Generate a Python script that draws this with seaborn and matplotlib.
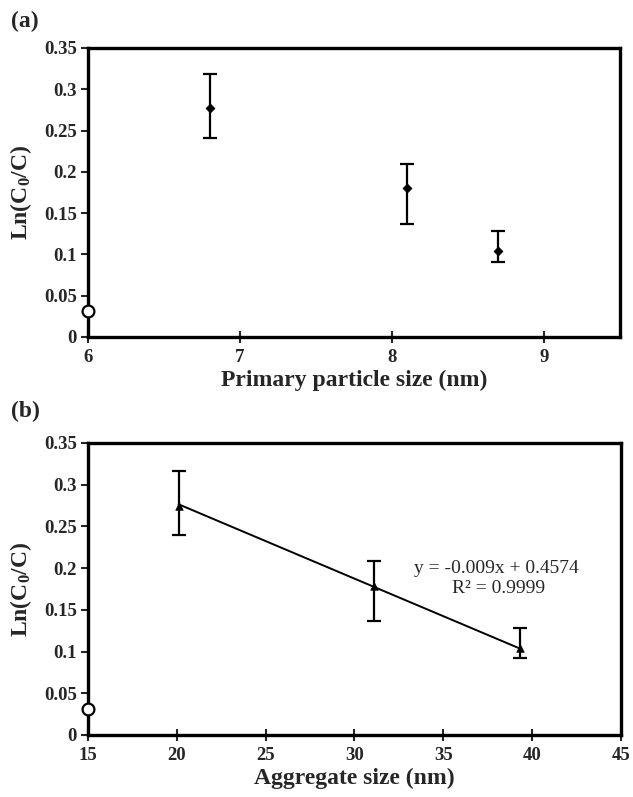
import numpy as np
import pandas as pd
import matplotlib
matplotlib.use("Agg")
import matplotlib.pyplot as plt
import seaborn as sns

# panel (a): primary particle size
primary_nm = [6.8, 8.1, 8.7]
ln_a = [0.277, 0.180, 0.104]
err_lo_a = [0.036, 0.043, 0.013]
err_hi_a = [0.041, 0.030, 0.024]

# panel (b): aggregate size
aggregate_nm = [20.1, 31.1, 39.3]
ln_b = [0.275, 0.179, 0.104]
err_lo_b = [0.035, 0.042, 0.012]
err_hi_b = [0.041, 0.030, 0.024]

# reference point (open circle) on the y axis
ref_y = 0.031

fit_slope = -0.009
fit_icpt = 0.4574

sns.set_style("ticks")
plt.rcParams['font.family'] = ['Liberation Serif', 'DejaVu Serif']
plt.rcParams['mathtext.fontset'] = 'custom'
plt.rcParams['mathtext.rm'] = 'Liberation Serif:bold'
plt.rcParams['mathtext.it'] = 'Liberation Serif:bold'
plt.rcParams['mathtext.bf'] = 'Liberation Serif:bold'

fig = plt.figure(figsize=(6.33, 7.97), dpi=100)
ax_a = fig.add_axes([0.139, 0.5772, 0.840, 0.3626])
ax_b = fig.add_axes([0.139, 0.0778, 0.842, 0.3664])

df_a = pd.DataFrame({"x": primary_nm, "y": ln_a})
df_b = pd.DataFrame({"x": aggregate_nm, "y": ln_b})


def style_axis(ax, xticks, xlabel):
    ax.set_ylim(0, 0.35)
    ax.set_yticks(np.arange(0, 0.351, 0.05))
    ax.set_yticklabels(["0", "0.05", "0.1", "0.15", "0.2", "0.25", "0.3", "0.35"])
    ax.set_xticks(xticks)
    for s in ax.spines.values():
        s.set_linewidth(2.4)
        s.set_color("black")
    ax.tick_params(axis="y", direction="out", length=5, width=1.5, labelsize=13.5, pad=3)
    ax.tick_params(axis="x", direction="inout", length=9, width=1.5, labelsize=13.5, pad=4)
    for lab in ax.get_xticklabels() + ax.get_yticklabels():
        lab.set_fontweight("bold")
    ax.set_xlabel(xlabel, fontsize=17, fontweight="bold", labelpad=3)
    ax.set_ylabel(r"Ln(C$_0$/C)", fontsize=17, fontweight="bold", labelpad=7)


# ---- (a)
ax_a.errorbar(primary_nm, ln_a, yerr=[err_lo_a, err_hi_a], fmt="none",
              ecolor="black", elinewidth=1.6, capsize=5, capthick=1.6, zorder=2)
sns.scatterplot(data=df_a, x="x", y="y", ax=ax_a, marker="D", s=22,
                color="black", edgecolor="black", zorder=3, legend=False)
ax_a.plot([6], [ref_y], marker="o", ms=8.5, mfc="white", mec="black", mew=1.6,
          clip_on=False, zorder=4)
ax_a.set_xlim(6, 9.5)
style_axis(ax_a, [6, 7, 8, 9], "Primary particle size (nm)")

# ---- (b)
fit_x = np.array([aggregate_nm[0], aggregate_nm[-1]])
ax_b.plot(fit_x, fit_slope * fit_x + fit_icpt, color="black", lw=1.4, zorder=2)
ax_b.errorbar(aggregate_nm, ln_b, yerr=[err_lo_b, err_hi_b], fmt="none",
              ecolor="black", elinewidth=1.6, capsize=5, capthick=1.6, zorder=2)
sns.scatterplot(data=df_b, x="x", y="y", ax=ax_b, marker="^", s=30,
                color="black", edgecolor="black", zorder=3, legend=False)
ax_b.plot([15], [ref_y], marker="o", ms=8.5, mfc="white", mec="black", mew=1.6,
          clip_on=False, zorder=4)
ax_b.set_xlim(15, 45)
style_axis(ax_b, [15, 20, 25, 30, 35, 40, 45], "Aggregate size (nm)")
ax_b.text(38.0, 0.200, "y = -0.009x + 0.4574", ha="center", va="center",
          fontsize=14, family=['Liberation Serif', 'DejaVu Serif'])
ax_b.text(38.1, 0.176, "R² = 0.9999", ha="center", va="center",
          fontsize=14, family=['Liberation Serif', 'DejaVu Serif'])

fig.text(0.018, 0.973, "(a)", fontsize=17, fontweight="bold", ha="left", va="center")
fig.text(0.018, 0.484, "(b)", fontsize=17, fontweight="bold", ha="left", va="center")

fig.savefig("out.png", dpi=100, facecolor="white")
